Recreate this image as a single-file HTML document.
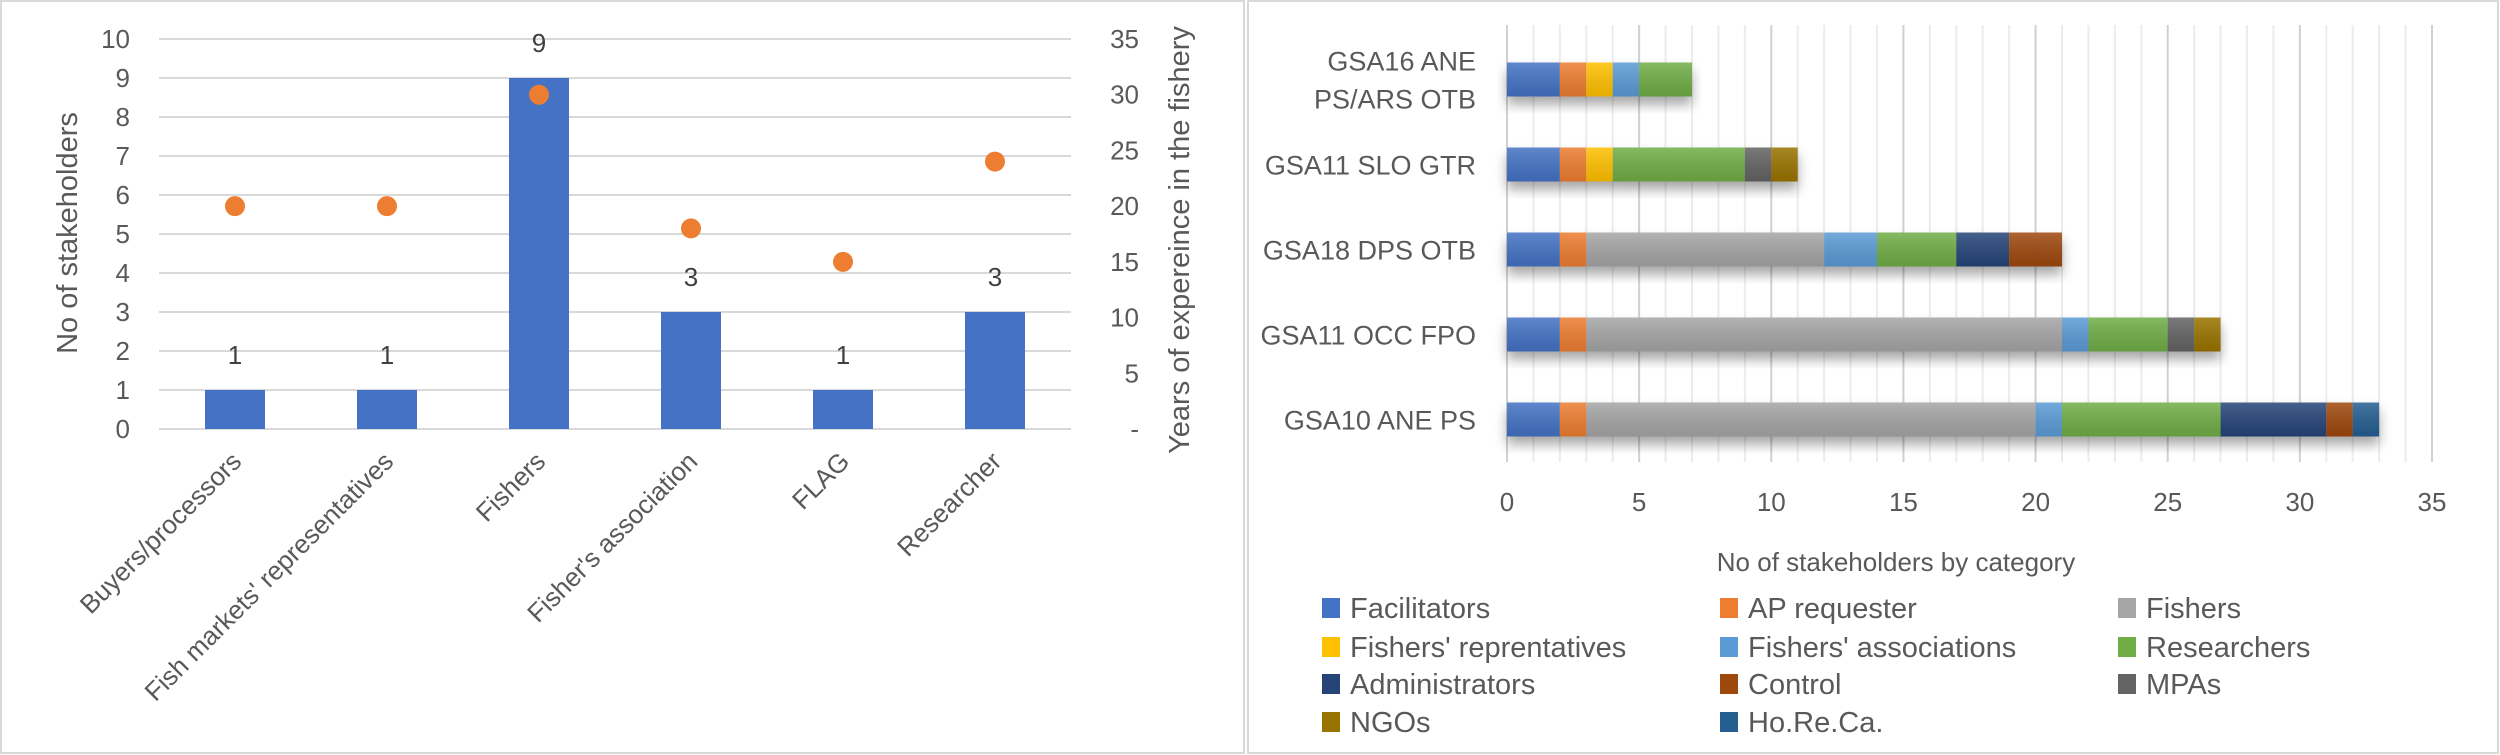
<!DOCTYPE html>
<html><head><meta charset="utf-8"><style>
html,body{margin:0;padding:0;background:#fff;}
svg{display:block;font-family:"Liberation Sans",sans-serif;}
</style></head><body>
<svg id="chart" width="2500" height="755" viewBox="0 0 2500 755" xmlns="http://www.w3.org/2000/svg">
<defs>
<filter id="sh" x="-5%" y="-30%" width="110%" height="180%"><feDropShadow dx="0" dy="8" stdDeviation="6" flood-color="#000" flood-opacity="0.35"/></filter>
<linearGradient id="gl" x1="0" y1="0" x2="0" y2="1"><stop offset="0" stop-color="#fff" stop-opacity="0.15"/><stop offset="1" stop-color="#000" stop-opacity="0.1"/></linearGradient>
</defs>
<rect x="1" y="1" width="1243" height="752" fill="#fff" stroke="#d9d9d9" stroke-width="2"/>
<rect x="1248" y="1" width="1250" height="752" fill="#fff" stroke="#d9d9d9" stroke-width="2"/>
<g id="left"></g>
<g id="right"></g>
</svg>
<script>
const NS="http://www.w3.org/2000/svg";
// ---- left chart data ----
const leftCategories=["Buyers/processors","Fish markets' representatives","Fishers","Fisher's association","FLAG","Researcher"];
const stakeholderCounts=[1,1,9,3,1,3];
const yearsExperience=[20,20,30,18,15,24];
const leftTicks=[0,1,2,3,4,5,6,7,8,9,10];
const rightTicks=["-","5","10","15","20","25","30","35"];
// ---- right chart data ----
const gsaCategories=["GSA10 ANE PS","GSA11 OCC FPO","GSA18 DPS OTB","GSA11 SLO GTR","GSA16 ANE PS/ARS OTB"];
const seriesNames=["Facilitators","AP requester","Fishers","Fishers' reprentatives","Fishers' associations","Researchers","Administrators","Control","MPAs","NGOs","Ho.Re.Ca."];
const facilitators=[2,2,2,2,2];
const apRequester=[1,1,1,1,1];
const fishers=[17,18,9,0,0];
const fishersReps=[0,0,0,1,1];
const fishersAssoc=[1,1,2,0,1];
const researchers=[6,3,3,5,2];
const administrators=[4,0,2,0,0];
const control=[1,0,2,0,0];
const mpas=[0,1,0,1,0];
const ngos=[0,1,0,1,0];
const horeca=[1,0,0,0,0];
const xTicks=[0,5,10,15,20,25,30,35];
const seriesValues=[facilitators,apRequester,fishers,fishersReps,fishersAssoc,researchers,administrators,control,mpas,ngos,horeca];
const seriesColors=["#4472C4","#ED7D31","#A5A5A5","#FFC000","#5B9BD5","#70AD47","#264478","#9E480E","#636363","#997300","#255E91"];

function el(tag,attrs,parent,text){const e=document.createElementNS(NS,tag);for(const k in attrs)e.setAttribute(k,attrs[k]);if(text!==undefined)e.textContent=text;parent.appendChild(e);return e;}
const TXT="#595959";

// ---- LEFT ----
const L=document.getElementById('left');
const lx0=159,lx1=1071,ly0=429,ly1=39;
const bandW=(lx1-lx0)/leftCategories.length;
const yL=v=>ly0-(v/10)*(ly0-ly1);
const yR=v=>ly0-(v/35)*(ly0-ly1);
const xC=i=>lx0+bandW*(i+0.5);
leftTicks.forEach(t=>{
  const g=el('line',{x1:lx0,x2:lx1,y1:yL(t),y2:yL(t),stroke:"#d9d9d9","stroke-width":2},L);
  
  
  const tx=el('text',{x:130,y:yL(t)+9,"text-anchor":"end","font-size":26,fill:TXT},L,String(t));
  
  
});
rightTicks.forEach((t,i)=>{
  const tx=el('text',{x:1139,y:yR(i*5)+9,"text-anchor":"end","font-size":26,fill:TXT},L,t);
  
  
});
stakeholderCounts.forEach((v,i)=>{
  const b=el('rect',{x:xC(i)-30,y:yL(v),width:60,height:ly0-yL(v),fill:"#4472C4"},L);
  
  
  const lb=el('text',{x:xC(i),y:yL(v)-26,"text-anchor":"middle","font-size":26,fill:"#404040"},L,String(v));
  
  
});
yearsExperience.forEach((v,i)=>{
  const d=el('circle',{cx:xC(i),cy:yR(v),r:10,fill:"#ED7D31"},L);
  
  
});
leftCategories.forEach((c,i)=>{
  const x=xC(i)+8,y=463;
  const t=el('text',{x:x,y:y,"text-anchor":"end","font-size":26,fill:TXT,transform:`rotate(-45 ${x} ${y})`},L,c);
  
  
});
let t1=el('text',{x:0,y:0,"text-anchor":"middle","font-size":29,fill:TXT,transform:"translate(77 233) rotate(-90)"},L,"No of stakeholders");


let t2=el('text',{x:0,y:0,"text-anchor":"middle","font-size":29,fill:TXT,transform:"translate(1189 240) rotate(-90)"},L,"Years of expereince in the fishery");



// ---- RIGHT ----
const R=document.getElementById('right');
const rx0=1507,rx1=2432,ryTop=25,ryBot=462;
const xS=v=>rx0+(v/35)*(rx1-rx0);
for(let v=0;v<=35;v++){
  const g=el('line',{x1:xS(v),x2:xS(v),y1:ryTop,y2:ryBot,stroke:v%5===0?"#d0d0d0":"#ececec","stroke-width":2},R);
  
  
}
xTicks.forEach(t=>{
  const tx=el('text',{x:xS(t),y:511,"text-anchor":"middle","font-size":26,fill:TXT},R,String(t));
  
  
});
const rowH=85;
const rowY=i=>ryBot-rowH*(i+0.5);
gsaCategories.forEach((c,i)=>{
  const g=el('g',{filter:"url(#sh)"},R);
  
  
  let acc=0;
  seriesValues.forEach((arr,s)=>{
    const v=arr[i];if(!v)return;
    const r=el('rect',{x:xS(acc),y:rowY(i)-17,width:xS(acc+v)-xS(acc),height:34,fill:seriesColors[s]},g);
    
    
    const o=el('rect',{x:xS(acc),y:rowY(i)-17,width:xS(acc+v)-xS(acc),height:34,fill:"url(#gl)"},g);
    
    
    acc+=v;
  });
  if(c==="GSA16 ANE PS/ARS OTB"){
    const a=el('text',{x:1476,y:rowY(i)-9,"text-anchor":"end","font-size":27,fill:TXT},R,"GSA16 ANE");
    
    
    const b=el('text',{x:1476,y:rowY(i)+29,"text-anchor":"end","font-size":27,fill:TXT},R,"PS/ARS OTB");
    
    
  } else {
    const a=el('text',{x:1476,y:rowY(i)+10,"text-anchor":"end","font-size":27,fill:TXT},R,c);
    
    
  }
});
let t3=el('text',{x:1896,y:571,"text-anchor":"middle","font-size":26,fill:TXT},R,"No of stakeholders by category");


const colX=[1322,1720,2118],rowYs=[608,647,684,722];
seriesNames.forEach((n,i)=>{
  const cx=colX[i%3],cy=rowYs[Math.floor(i/3)];
  const g=el('g',{},R);
  
  
  el('rect',{x:cx,y:cy-10,width:18,height:20,fill:seriesColors[i]},g);
  el('text',{x:cx+28,y:cy+10,"font-size":29,fill:TXT},g,n);
});
</script>
</body></html>
